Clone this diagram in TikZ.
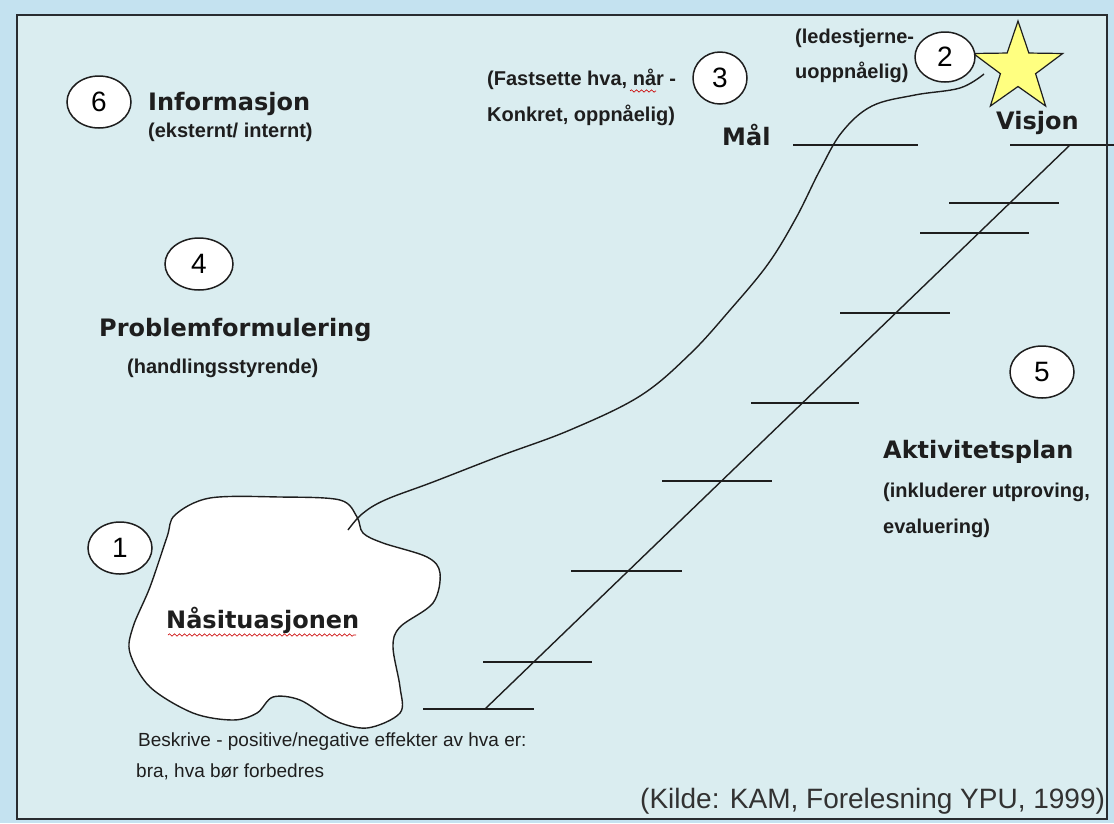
\documentclass[tikz,border=0pt]{standalone}
\usepackage{fontspec}
\setmainfont{Liberation Sans}
\newfontfamily\dv{DejaVu Sans}
\usetikzlibrary{shapes.geometric,decorations.pathmorphing,calc}
\definecolor{outerbg}{RGB}{196,226,240}
\definecolor{innerbg}{RGB}{218,237,240}
\definecolor{staryellow}{RGB}{255,255,128}
\definecolor{framec}{RGB}{40,44,48}
\definecolor{inkc}{RGB}{30,30,30}
\definecolor{kildec}{RGB}{50,50,50}
\begin{document}
\begin{tikzpicture}[x=1pt,y=-1pt,
  badge/.style={draw=inkc, line width=1.5, fill=white, ellipse, minimum width=64, minimum height=52, inner sep=0, font=\fontsize{28}{28}\selectfont},
  title/.style={font=\dv\bfseries\fontsize{24}{28}\selectfont, anchor=base west, inner sep=0, text=inkc},
  sub/.style={font=\bfseries\fontsize{20}{24}\selectfont, anchor=base west, inner sep=0, text=inkc},
  note/.style={font=\fontsize{19}{22}\selectfont, anchor=base west, inner sep=0, text=inkc},
  rung/.style={line width=2, draw=inkc},
  thin/.style={line width=1.4, draw=inkc},
  spell/.style={draw=red!80!black, line width=0.6, decorate, decoration={snake, amplitude=1.2, segment length=5}}]
\useasboundingbox (0,0) rectangle (1114,823);
\fill[outerbg] (0,0) rectangle (1114,823);
\fill[innerbg] (17,15) rectangle (1107,819);

% cloud (Nåsituasjonen)
\draw[thin, fill=white] plot[smooth cycle, tension=0.55] coordinates {
 (175,515) (210,498) (280,497) (340,500) (357,517) (363,533) (383,543) (427,557)
 (440,573) (433,603) (400,627) (393,647) (400,687) (400,713) (367,728) (333,720)
 (300,700) (273,697) (257,713) (233,720) (193,713) (150,687) (130,653) (133,627)
 (150,587) (167,537)};
\node[title, anchor=base west] (nasit) at (166,628) {Nåsituasjonen};
\draw[spell] (168,635) -- (356,635);

% star (Visjon)
\coordinate (sc) at (1018,68);
\draw[thin, line width=1.2, fill=staryellow] ($(sc)+(90:-47)$)
  \foreach \a in {0,1,2,3,4} { -- ($(sc)+({90+72*\a}:-47)$) -- ($(sc)+({126+72*\a}:-18.5)$) } -- cycle;

% path curve from cloud to star
\coordinate (cstart) at (348,530);
\coordinate (cend) at (984,74);
\draw[thin] plot[smooth, tension=0.6] coordinates {
 (cstart) (362,514) (385,500) (433,482) (500,456) (570,430) (640,396) (690,354)
 (730,310) (768,264) (796,218) (820,170) (842,132) (872,106) (915,95) (960,88) (cend)};

% staircase
\coordinate (d0) at (485,709);
\coordinate (d1) at (1070,145);
\draw[thin] (d0) -- (d1);
\foreach \y/\a/\b in {709/423/534, 662/483/592, 571/571/682, 481/662/772, 403/751/859, 313/840/950, 233/920/1029, 203/949/1059, 145/1010/1114, 145/793/918}
  \draw[rung] (\a,\y) -- (\b,\y);

% badges
\node[badge] (b6) at (99,102) {6};
\node[badge, minimum width=54] (b3) at (720,78) {3};
\node[badge, minimum width=60, minimum height=50] (b2) at (945,57) {2};
\node[badge, minimum width=68] (b4) at (199,264) {4};
\node[badge] (b1) at (120,548) {1};
\node[badge] (b5) at (1042,372) {5};

% labels
\node[title] (info) at (148,110) {Informasjon};
\node[sub] (infosub) at (148,137) {(eksternt/ internt)};
\node[sub] (fast1) at (487,85) {(Fastsette hva, når -};
\draw[spell] (630,91) -- (656,91);
\node[sub] (fast2) at (487,121) {Konkret, oppnåelig)};
\node[title] (maal) at (722,145) {Mål};
\node[sub] (led1) at (795,43) {(ledestjerne-};
\node[sub] (led2) at (795,78) {uoppnåelig)};
\node[title] (visjon) at (996,129) {Visjon};
\node[title] (prob) at (99,336) {Problemformulering};
\node[sub] (probsub) at (127,373) {(handlingsstyrende)};
\node[title] (akt) at (883,458) {Aktivitetsplan};
\node[sub] (akt1) at (883,497) {(inkluderer utproving,};
\node[sub] (akt2) at (883,533) {evaluering)};
\node[note] (besk1) at (138,746) {Beskrive - positive/negative effekter av hva er:};
\node[note] (besk2) at (136,777) {bra, hva bør forbedres};
\node[font=\fontsize{28}{30}\selectfont, text=kildec, anchor=base west, inner sep=0] (kilde) at (640,808) {(Kilde: KAM, Forelesning YPU, 1999)};

% frame
\draw[framec, line width=2.5] (17,15) rectangle (1107,819);
\end{tikzpicture}
\end{document}
